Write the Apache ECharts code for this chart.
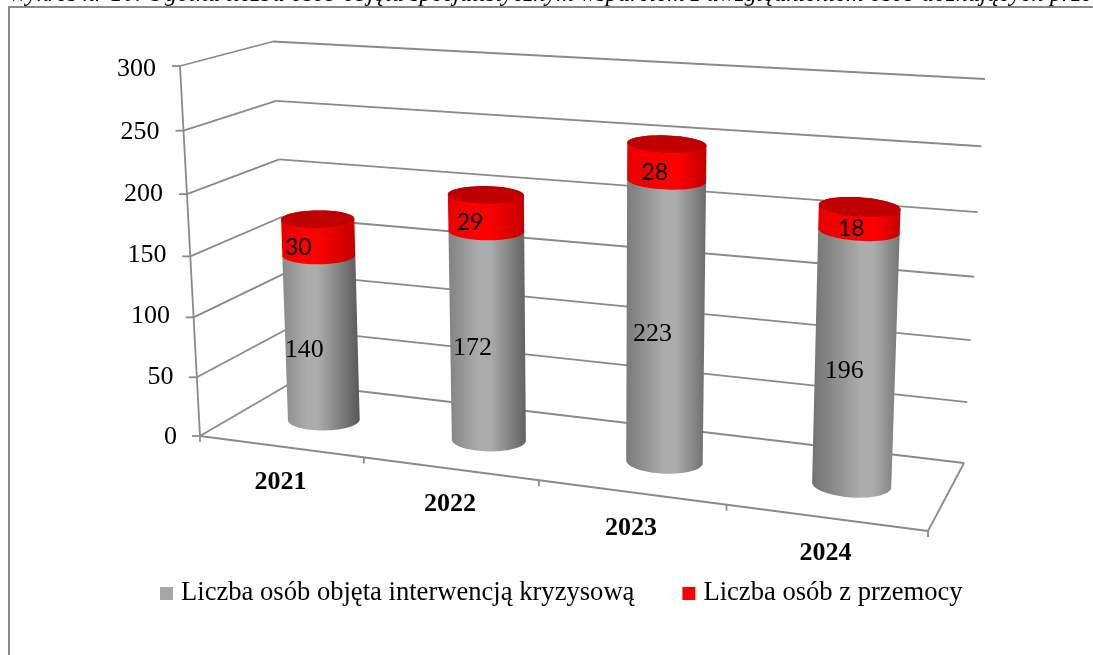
<!DOCTYPE html>
<html><head><meta charset="utf-8">
<style>html,body{margin:0;padding:0;background:#fff;overflow:hidden}#c{width:1093px;height:655px}</style>
<script src="https://cdn.jsdelivr.net/npm/echarts@6/dist/echarts.min.js"></script>
</head><body><div id="c"></div>
<script>
const categories = ['2021','2022','2023','2024'];
const interwencja = [140,172,223,196];
const przemoc = [30,29,28,18];
const ticks = [0,50,100,150,200,250,300];
const seriesNames = ['Liczba osób objęta interwencją kryzysową','Liczba osób z przemocy'];
const heading = 'Wykres nr 10. Ogólna liczba osób objęta specjalistycznym wsparciem z uwzględnieniem osób doznających przemocy';

// Perspective calibration of the 3D box: [bottom-left, bottom-right, top-right, top-left]
const FRONT = [[200,436],[928,531],[955,109],[180,66]];
const BACK  = [[291,383],[964,463],[985,79],[273,41.5]];
const MID   = [[245,410],[950,497],[966,96],[231,55]];
const G = {left:185, top:66, width:700, height:369};
const SERIF = '"Liberation Serif","Times New Roman",serif';
const LINE = '#8a8a8a';
const labelDrop = {300:6,250:10,200:10,150:10,100:8,50:8,0:4};

function plane(q){
  const [[x0,y0],[x1,y1],[x2,y2],[x3,y3]] = q;
  const dx1=x1-x2, dx2=x3-x2, sx=x0-x1+x2-x3, dy1=y1-y2, dy2=y3-y2, sy=y0-y1+y2-y3;
  const d=dx1*dy2-dx2*dy1;
  const g=(sx*dy2-dx2*sy)/d, h=(dx1*sy-sx*dy1)/d;
  const a=x1-x0+g*x1, b=x3-x0+h*x3, c=x0, e=y1-y0+g*y1, f=y3-y0+h*y3, i=y0;
  return (s,t)=>{const w=g*s+h*t+1;return [(a*s+b*t+c)/w,(e*s+f*t+i)/w];};
}
const front=plane(FRONT), back=plane(BACK), mid=plane(MID);
const norm=p=>[(p[0]-G.left)/G.width,(G.top+G.height-p[1])/G.height];

function ellipsePts(cx,cy,rx,ry,slope,from,to,n){
  const out=[];
  for(let k=0;k<=n;k++){const a=from+(to-from)*k/n;const x=rx*Math.cos(a),y=ry*Math.sin(a);out.push([cx+x,cy+y+x*slope]);}
  return out;
}
function ratio(y){return 0.215+(y-140)*0.0003;}
function ring(i,v,api){
  const bw=api.size([1,0])[0]/G.width, du=0.224-0.0065*i;
  const n=norm(api.coord([i,v]));
  const c=mid(n[0],n[1]), l=mid(n[0]-bw*du,n[1]), r=mid(n[0]+bw*du,n[1]);
  const rx=(r[0]-l[0])/2;
  return {cx:c[0],cy:c[1],rx,ry:rx*ratio(c[1]),slope:0.024*(i-0.4)};
}
function grad(i,dark,light,darkR){
  const h=0.32+i*0.08;
  return {type:'linear',x:0,y:0,x2:1,y2:0,colorStops:[
    {offset:0,color:dark},{offset:h,color:light},{offset:h+0.14,color:light},{offset:1,color:darkR}]};
}
function cylinder(i,v0,v1,api,side,cap,label,font,dx,dy){
  const a=ring(i,v0,api), b=ring(i,v1,api);
  const pts=[...ellipsePts(a.cx,a.cy,a.rx,a.ry,a.slope,0,Math.PI,30),
             ...ellipsePts(b.cx,b.cy,b.rx,b.ry,b.slope,Math.PI,2*Math.PI,30)];
  const kids=[{type:'polygon',shape:{points:pts},style:{fill:side}}];
  if(cap) kids.push({type:'polygon',shape:{points:ellipsePts(b.cx,b.cy,b.rx,b.ry,b.slope,0,2*Math.PI,60)},style:{fill:cap}});
  kids.push({type:'text',x:(a.cx+b.cx)/2-14+dx,y:(a.cy+b.cy)/2+dy,
    style:{text:String(label),font:font,fill:'#000',align:'center',verticalAlign:'middle'}});
  return {type:'group',children:kids};
}
const seg=(x1,y1,x2,y2)=>({type:'line',shape:{x1,y1,x2,y2},style:{stroke:LINE,lineWidth:1.8}});
const gray=l=>{const h=Math.round(l).toString(16).padStart(2,'0');return '#'+h+h+h;};

const chart=echarts.init(document.getElementById('c'),null,{renderer:'canvas'});
chart.setOption({
  animation:false,
  backgroundColor:'#fff',
  title:{text:heading,left:8,top:-17,padding:0,textStyle:{fontFamily:SERIF,fontStyle:'italic',fontWeight:'normal',fontSize:24.4,color:'#000'}},
  graphic:[{type:'rect',silent:true,z:-1,shape:{x:9,y:7,width:1200,height:800},style:{fill:'none',stroke:LINE,lineWidth:2}}],
  grid:G,
  legend:{left:155,top:575,itemWidth:13,itemHeight:13,itemGap:48,icon:'rect',selectedMode:false,
    data:seriesNames,textStyle:{fontFamily:SERIF,fontSize:26.6,color:'#000',padding:[0,0,0,3]}},
  xAxis:{type:'category',data:categories,axisLine:{show:false},axisTick:{show:false},axisLabel:{show:false},splitLine:{show:false}},
  yAxis:{type:'value',min:0,max:300,interval:50,axisLine:{show:false},axisTick:{show:false},splitLine:{show:false},
    axisLabel:{margin:8,formatter:v=>`{t${v}|${v}}`,
      rich:Object.fromEntries(ticks.map(v=>['t'+v,{fontFamily:SERIF,fontSize:26,color:'#000',padding:[labelDrop[v],v/300*21,0,0]}]))}},
  series:[
    {type:'custom',name:'frame',silent:true,z:1,data:ticks.map(v=>[0,v]),
      encode:{x:0,y:1},
      renderItem(p,api){
        const t=norm(api.coord([0,api.value(1)]))[1];
        const f=front(0,t), b=back(0,t), e=back(1,t);
        const kids=[seg(f[0]-8,f[1],f[0],f[1]),seg(f[0],f[1],b[0],b[1]),seg(b[0],b[1],e[0],e[1])];
        if(p.dataIndex===0){const a=front(0,1),z=front(1,0);
          kids.push(seg(a[0],a[1],f[0],f[1]),seg(f[0],f[1],z[0],z[1]),seg(z[0],z[1],e[0],e[1]));
          kids.push(seg(f[0],f[1],f[0],f[1]+6));}
        return {type:'group',children:kids};
      }},
    {type:'custom',name:'floor',silent:true,z:1,data:categories.map((c,i)=>[i,0,c]),
      encode:{x:0,y:1},
      renderItem(p,api){
        const i=api.value(0), w=api.size([1,0])[0]/G.width, n=norm(api.coord([i,0]));
        const tick=front(n[0]+w/2,0), lab=front(n[0],0);
        return {type:'group',children:[seg(tick[0],tick[1],tick[0],tick[1]+6),
          {type:'text',x:lab[0],y:lab[1]+36,style:{text:categories[i],font:'bold 26px '+SERIF,fill:'#000',align:'center',verticalAlign:'middle'}}]};
      }},
    {type:'custom',name:seriesNames[0],z:2,itemStyle:{color:'#A6A6A6'},data:interwencja.map((v,i)=>[i,v]),
      encode:{x:0,y:1},
      renderItem(p,api){
        const i=api.value(0), v=api.value(1);
        return cylinder(i,0,v,api,grad(i,gray(0x8a-i*8),'#acacac',gray(0x58+i*10)),null,v,'26px '+SERIF,2*(i-1.5),13);
      }},
    {type:'custom',name:seriesNames[1],z:3,itemStyle:{color:'#FF0000'},data:przemoc.map((v,i)=>[i,interwencja[i],v]),
      encode:{x:0,y:1},
      renderItem(p,api){
        const i=api.value(0), s=api.value(1), v=api.value(2);
        return cylinder(i,s,s+v,api,grad(i,'#e80000','#ff0000','#c40000'),'#C00000',v,'23px Lato,sans-serif',4*(i-1.5),10);
      }}
  ]
});
</script></body></html>
